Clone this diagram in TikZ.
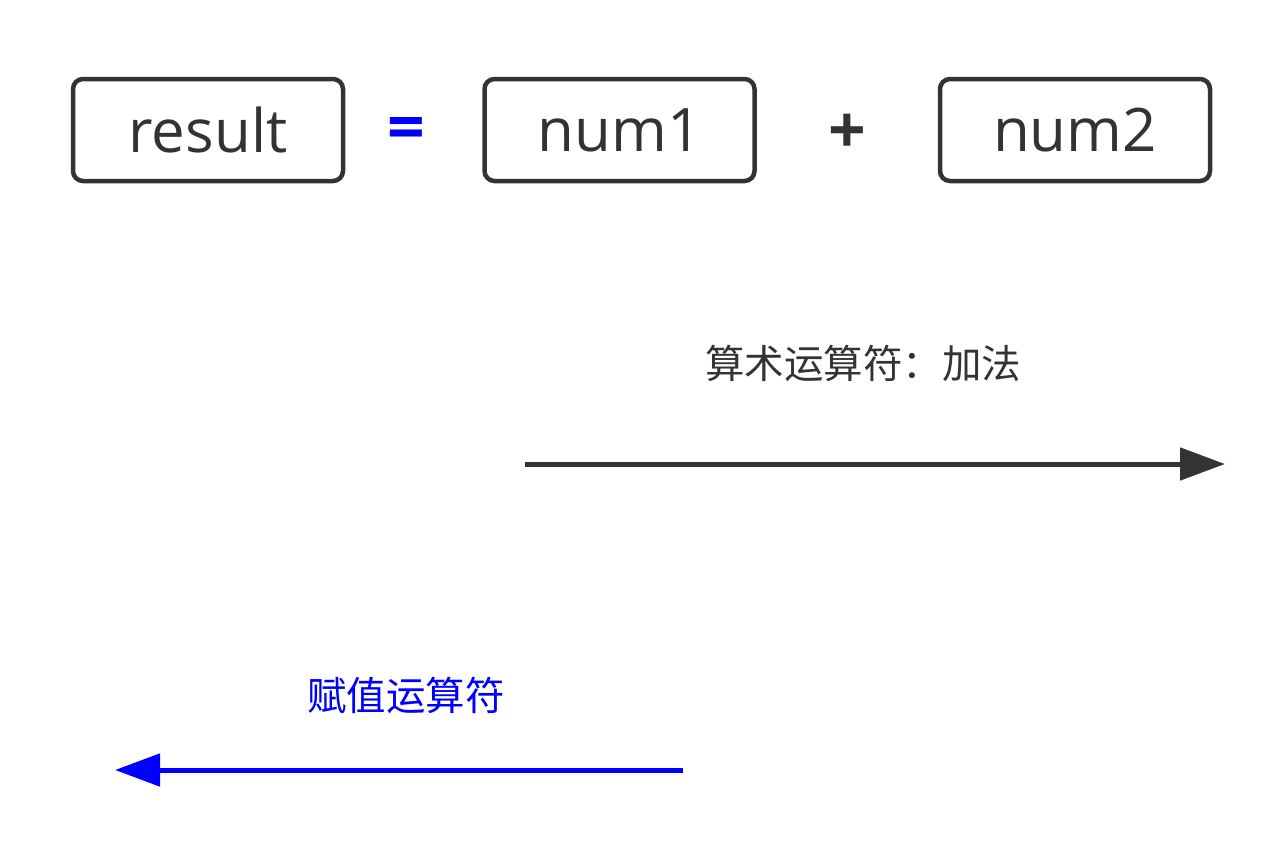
\documentclass[tikz,border=0pt]{standalone}
\usepackage{fontspec}
\setmainfont{Open Sans}
\newfontfamily\cjk{Noto Sans CJK SC}
\usetikzlibrary{arrows.meta}
\definecolor{dk}{HTML}{333333}
\definecolor{bl}{HTML}{0000FF}
\tikzset{
  varbox/.style={draw=dk, line width=4.5pt, rounded corners=10pt, minimum width=270pt, minimum height=102pt, inner sep=0pt, text=dk, font=\fontsize{60}{60}\selectfont},
  opsym/.style={inner sep=0pt, font=\fontsize{66}{66}\selectfont\bfseries},
  lbl/.style={inner sep=0pt, font=\cjk\fontsize{39.5}{39.5}\selectfont},
  arr/.style={line width=5pt, -{Triangle[length=45pt,width=32pt]}}
}
\begin{document}
\begin{tikzpicture}[x=1pt,y=-1pt]
\useasboundingbox (0,0) rectangle (1284,846);
\node[varbox] (res) at (208,130) {result};
\node[varbox] (n1) at (619.5,130) {num1};
\node[varbox] (n2) at (1075,130) {num2};
\node[opsym, text=bl] (eq) at (406,134) {=};
\node[opsym, text=dk] (pl) at (847,134) {+};
\node[lbl, text=dk] (l1) at (863,363) {算术运算符：加法};
\node[lbl, text=bl] (l2) at (406,695) {赋值运算符};
\coordinate (a1s) at (525,464);
\coordinate (a1e) at (1225,464);
\coordinate (a2s) at (683,770);
\coordinate (a2e) at (115,770);
\draw[arr, draw=dk, fill=dk] (a1s) -- (a1e);
\draw[arr, draw=bl, fill=bl] (a2s) -- (a2e);
\end{tikzpicture}
\end{document}
